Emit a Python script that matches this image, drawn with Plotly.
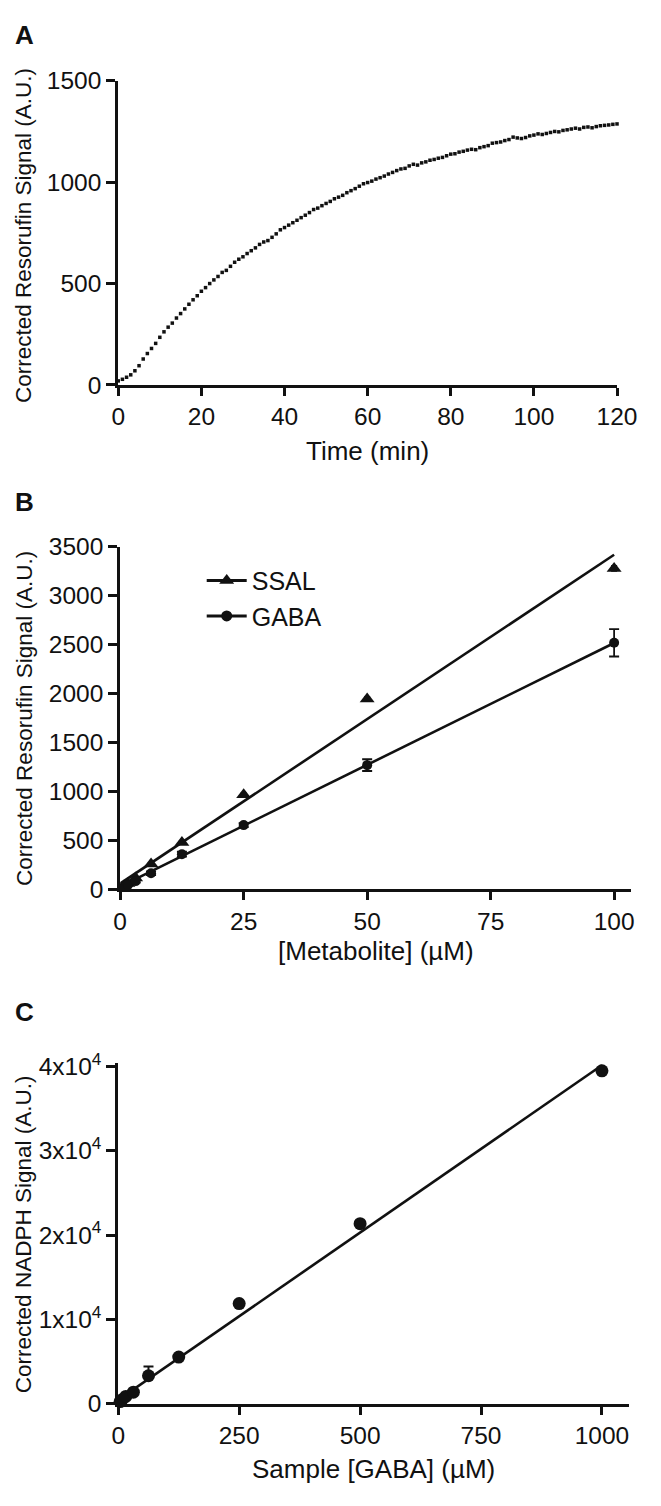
import plotly.graph_objects as go

# ---------------- Panel A: kinetic trace ----------------
time_min = list(range(0, 121))
resorufin_signal = [
    20, 28, 38, 50, 70, 95, 128, 155, 180, 205,
    235, 262, 285, 305, 330, 352, 375, 398, 420, 440,
    462, 480, 500, 518, 535, 555, 565, 585, 605, 620,
    632, 648, 662, 676, 693, 705, 712, 728, 745, 765,
    776, 788, 800, 812, 825, 837, 850, 865, 872, 884,
    895, 905, 918, 926, 935, 948, 958, 968, 980, 992,
    998, 1005, 1015, 1022, 1030, 1040, 1048, 1057, 1065, 1068,
    1080, 1088, 1084, 1095, 1100, 1108, 1112, 1118, 1122, 1130,
    1138, 1140, 1148, 1152, 1158, 1162, 1160, 1170, 1175, 1180,
    1192, 1195, 1198, 1205, 1210, 1222, 1218, 1215, 1220, 1228,
    1232, 1238, 1235, 1240, 1245, 1250, 1248, 1255, 1258, 1262,
    1266, 1262, 1270, 1272, 1268, 1274, 1278, 1280, 1282, 1285,
    1287,
]

# ---------------- Panel B: standard curves ----------------
metabolite_uM = [0.78125, 1.5625, 3.125, 6.25, 12.5, 25, 50, 100]
ssal_signal = [35, 60, 117, 260, 480, 967, 1945, 3280]
ssal_err = [3, 4, 6, 8, 10, 15, 20, 25]
gaba_signal = [25, 45, 85, 165, 360, 657, 1270, 2520]
gaba_err = [5, 8, 15, 20, 25, 20, 60, 140]
ssal_fit = {"slope": 33.6, "intercept": 60}
gaba_fit = {"slope": 24.9, "intercept": 28}
fit_x_b = [0, 100]

# ---------------- Panel C: NADPH standard ----------------
sample_gaba_uM = [3.90625, 7.8125, 15.625, 31.25, 62.5, 125, 250, 500, 1000]
nadph_signal = [250, 470, 860, 1365, 3310, 5530, 11870, 21350, 39490]
nadph_err_up = [0, 0, 0, 0, 1100, 0, 0, 0, 0]
nadph_fit = {"slope": 39.7, "intercept": 450}
fit_x_c = [0, 1000]

c_tickvals = [0, 10000, 20000, 30000, 40000]
c_ticktext = ["0", "1x10<sup>4</sup>", "2x10<sup>4</sup>", "3x10<sup>4</sup>", "4x10<sup>4</sup>"]

W, H = 661, 1506
FONT = "Liberation Sans, Arial, Helvetica, sans-serif"
INK = "#111111"
TICK_SIZE = 24.5


def px_x(p):
    return p / W


def px_y(p):
    return 1 - p / H


fig = go.Figure()

# Panel A
fig.add_trace(go.Scatter(
    x=time_min, y=resorufin_signal, mode="markers",
    marker=dict(symbol="square", size=3.5, color=INK),
    xaxis="x", yaxis="y", showlegend=False, cliponaxis=False,
))

# Panel B fits
fig.add_trace(go.Scatter(
    x=fit_x_b, y=[ssal_fit["slope"] * v + ssal_fit["intercept"] for v in fit_x_b],
    mode="lines", line=dict(color=INK, width=2.6),
    xaxis="x2", yaxis="y2", showlegend=False,
))
fig.add_trace(go.Scatter(
    x=fit_x_b, y=[gaba_fit["slope"] * v + gaba_fit["intercept"] for v in fit_x_b],
    mode="lines", line=dict(color=INK, width=2.6),
    xaxis="x2", yaxis="y2", showlegend=False,
))
# Panel B points
fig.add_trace(go.Scatter(
    x=metabolite_uM, y=ssal_signal, mode="markers", name="SSAL",
    marker=dict(symbol="triangle-up", size=13, color=INK),
    error_y=dict(type="data", array=ssal_err, color=INK, thickness=1.8, width=3),
    xaxis="x2", yaxis="y2", cliponaxis=False, showlegend=False,
))
fig.add_trace(go.Scatter(
    x=metabolite_uM, y=gaba_signal, mode="markers", name="GABA",
    marker=dict(symbol="circle", size=10, color=INK),
    error_y=dict(type="data", array=gaba_err, color=INK, thickness=1.8, width=5),
    xaxis="x2", yaxis="y2", cliponaxis=False, showlegend=False,
))
# Legend entries (line + symbol, as in the original key)
fig.add_trace(go.Scatter(
    x=[None], y=[None], mode="lines+markers", name="SSAL",
    line=dict(color=INK, width=3),
    marker=dict(symbol="triangle-up", size=13, color=INK),
    xaxis="x2", yaxis="y2",
))
fig.add_trace(go.Scatter(
    x=[None], y=[None], mode="lines+markers", name="GABA",
    line=dict(color=INK, width=3),
    marker=dict(symbol="circle", size=11, color=INK),
    xaxis="x2", yaxis="y2",
))

# Panel C
fig.add_trace(go.Scatter(
    x=fit_x_c, y=[nadph_fit["slope"] * v + nadph_fit["intercept"] for v in fit_x_c],
    mode="lines", line=dict(color=INK, width=2.6),
    xaxis="x3", yaxis="y3", showlegend=False,
))
fig.add_trace(go.Scatter(
    x=sample_gaba_uM, y=nadph_signal, mode="markers",
    marker=dict(symbol="circle", size=13, color=INK),
    error_y=dict(type="data", symmetric=False, array=nadph_err_up,
                 arrayminus=[0] * len(nadph_err_up), color=INK, thickness=2, width=5),
    xaxis="x3", yaxis="y3", showlegend=False, cliponaxis=False,
))

axis_common = dict(
    showline=True, linewidth=3, linecolor=INK, mirror=False,
    ticks="outside", tickwidth=3, tickcolor=INK,
    showgrid=False, zeroline=False,
    tickfont=dict(family=FONT, size=TICK_SIZE, color=INK),
)

fig.update_layout(
    width=W, height=H,
    margin=dict(l=0, r=0, t=0, b=0),
    paper_bgcolor="white", plot_bgcolor="white",
    xaxis=dict(domain=[px_x(116), px_x(636)], range=[0, 120], ticklen=8,
               tickvals=[0, 20, 40, 60, 80, 100, 120], anchor="y", **axis_common),
    yaxis=dict(domain=[px_y(378), px_y(68)], range=[0, 1500], ticklen=9,
               tickvals=[0, 500, 1000, 1500], anchor="x", **axis_common),
    xaxis2=dict(domain=[px_x(118), px_x(651)], range=[0, 103.5], ticklen=8,
                tickvals=[0, 25, 50, 75, 100], anchor="y2", **axis_common),
    yaxis2=dict(domain=[px_y(892), px_y(543)], range=[0, 3500], ticklen=9,
                tickvals=[0, 500, 1000, 1500, 2000, 2500, 3000, 3500], anchor="x2", **axis_common),
    xaxis3=dict(domain=[px_x(116), px_x(648)], range=[0, 1055], ticklen=8,
                tickvals=[0, 250, 500, 750, 1000], anchor="y3", **axis_common),
    yaxis3=dict(domain=[px_y(1416), px_y(1069)], range=[0, 40400], ticklen=9,
                tickvals=c_tickvals, ticktext=c_ticktext, anchor="x3", **axis_common),
    legend=dict(
        x=px_x(203), y=px_y(554), xanchor="left", yanchor="top",
        font=dict(family=FONT, size=25, color=INK),
        bgcolor="rgba(0,0,0,0)", itemwidth=40, tracegroupgap=0,
    ),
    showlegend=True,
)


def label(text, x, y, size=26, angle=0, bold=False):
    fig.add_annotation(
        text=f"<b>{text}</b>" if bold else text,
        xref="paper", yref="paper", x=px_x(x), y=px_y(y),
        xanchor="center", yanchor="middle", showarrow=False, textangle=angle,
        font=dict(family=FONT, size=size, color=INK),
    )


label("A", 18, 21, size=26, bold=True)
label("B", 18, 497, size=26, bold=True)
label("C", 18, 1017, size=26, bold=True)

label("Time (min)", 376, 445, size=26)
label("[Metabolite] (µM)", 385, 955, size=26)
label("Sample [GABA] (µM)", 382, 1483, size=26)

label("Corrected Resorufin Signal (A.U.)", 18, 226, size=22.5, angle=-90)
label("Corrected Resorufin Signal (A.U.)", 18, 718, size=22.5, angle=-90)
label("Corrected NADPH Signal (A.U.)", 18, 1243, size=22.5, angle=-90)

fig.write_html(
    "out.html",
    config={"displayModeBar": False},
    post_script="document.body.style.margin='0px';",
)
